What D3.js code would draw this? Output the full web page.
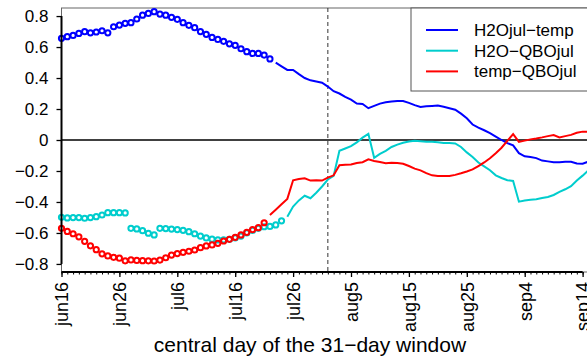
<!DOCTYPE html>
<html>
<head>
<meta charset="utf-8">
<script src="https://cdn.jsdelivr.net/npm/d3@7"></script>
<style>
  body { margin: 0; background: #fff; }
  svg { font-family: "Liberation Sans", Arial, sans-serif; }
</style>
</head>
<body>
<svg></svg>
<script>
// day 0 = jun16, one value per day
const startDay = Date.UTC(2000, 5, 16)
const tickLabels = ["jun16", "jun26", "jul6", "jul16", "jul26", "aug5", "aug15", "aug25", "sep4", "sep14"]
const yTicks = [-0.8, -0.6, -0.4, -0.2, 0, 0.2, 0.4, 0.6, 0.8]
const seriesNames = ["H2Ojul\u2212temp", "H2O\u2212QBOjul", "temp\u2212QBOjul"]
const markDay = 46 // aug1, dashed line

const h2oTemp = [
  0.656, 0.667, 0.675, 0.688, 0.699, 0.692, 0.697, 0.705, 0.692, 0.731, 0.742, 0.753, 0.757, 0.781, 0.806, 0.817,
  0.828, 0.813, 0.806, 0.792, 0.779, 0.757, 0.740, 0.725, 0.700, 0.682, 0.662, 0.649, 0.637, 0.621, 0.611, 0.589,
  0.570, 0.559, 0.559, 0.548, 0.523,
  0.499, 0.475, 0.452, 0.452, 0.425, 0.400, 0.385, 0.378, 0.370, 0.345, 0.315, 0.300, 0.278, 0.260, 0.235, 0.232,
  0.205, 0.220, 0.235, 0.243, 0.248, 0.252, 0.252, 0.240, 0.225, 0.213, 0.218, 0.220, 0.222, 0.215, 0.205, 0.195,
  0.170, 0.140, 0.100, 0.080, 0.063, 0.045, 0.022, 0.000, -0.020, -0.035, -0.085, -0.105, -0.110, -0.117, -0.133,
  -0.138, -0.144, -0.143, -0.140, -0.140, -0.152, -0.153, -0.140
]
const h2oQbo = [
  -0.499, -0.503, -0.501, -0.501, -0.505, -0.501, -0.495, -0.484, -0.469, -0.469, -0.469, -0.471,
  -0.570, -0.574, -0.585, -0.602, -0.613,
  -0.570, -0.572, -0.575, -0.578, -0.583, -0.592, -0.605, -0.620, -0.632, -0.640, -0.645, -0.645, -0.641, -0.632,
  -0.620, -0.600, -0.583, -0.570, -0.560, -0.558, -0.548, -0.522,
  -0.495, -0.430, -0.390, -0.360, -0.376, -0.340, -0.300, -0.255, -0.232, -0.070, -0.055, -0.040, -0.015, 0.015,
  0.040, -0.115, -0.090, -0.070, -0.045, -0.030, -0.018, -0.010, -0.005, -0.008, -0.011, -0.011, -0.015, -0.020,
  -0.020, -0.022, -0.045, -0.080, -0.110, -0.145, -0.170, -0.195, -0.228, -0.245, -0.260, -0.264, -0.398, -0.390,
  -0.386, -0.383, -0.375, -0.368, -0.355, -0.335, -0.318, -0.298, -0.262, -0.230, -0.196
]
const tempQbo = [
  -0.570, -0.590, -0.605, -0.625, -0.654, -0.683, -0.708, -0.735, -0.748, -0.757, -0.763, -0.780, -0.774, -0.777,
  -0.779, -0.780, -0.781, -0.775, -0.760, -0.743, -0.733, -0.725, -0.718, -0.710, -0.695, -0.684, -0.677, -0.667,
  -0.652, -0.641, -0.628, -0.613, -0.596, -0.578, -0.566, -0.534,
  -0.484, -0.450, -0.415, -0.380, -0.260, -0.252, -0.247, -0.262, -0.260, -0.262, -0.243, -0.228, -0.163, -0.160,
  -0.158, -0.148, -0.143, -0.125, -0.135, -0.142, -0.150, -0.147, -0.148, -0.153, -0.168, -0.185, -0.196, -0.214,
  -0.228, -0.232, -0.232, -0.232, -0.225, -0.215, -0.203, -0.190, -0.168, -0.145, -0.118, -0.085, -0.050, -0.005,
  0.038, -0.012, -0.004, 0.004, 0.010, 0.017, 0.025, 0.032, 0.017, 0.025, 0.033, 0.047, 0.054, 0.054
]
// last day drawn with circles (significant), per series
const lastSigDay = [36, 38, 35]

const colors = ["#0000ff", "#00cdcd", "#ff0000"]
const width = 587, height = 358
const plotLeft = 61.5, plotTop = 8, plotBottom = 272

const dates = h2oTemp.map((_, i) => new Date(startDay + i * 864e5))
const series = [h2oTemp, h2oQbo, tempQbo]

const svg = d3.select("svg").attr("width", width).attr("height", height)

const x = d3.scaleUtc()
  .domain([dates[0], dates[dates.length - 1]])
  .range([plotLeft, 588.4])
const y = d3.scaleLinear()
  .domain([-0.852, 0.852])
  .range([plotBottom, plotTop])

// box
svg.append("rect")
  .attr("x", plotLeft).attr("y", plotTop)
  .attr("width", 700).attr("height", plotBottom - plotTop)
  .attr("fill", "none").attr("stroke", "#666").attr("stroke-width", 1)

// zero line
svg.append("line")
  .attr("x1", plotLeft).attr("x2", width)
  .attr("y1", y(0)).attr("y2", y(0))
  .attr("stroke", "#000").attr("stroke-width", 1.6)

// dashed line at window
svg.append("line")
  .attr("x1", x(dates[markDay])).attr("x2", x(dates[markDay]))
  .attr("y1", plotTop).attr("y2", plotBottom)
  .attr("stroke", "#333").attr("stroke-width", 1)
  .attr("stroke-dasharray", "4,3")

series.forEach((vals, s) => {
  const line = d3.line()
    .defined((d, i) => i > lastSigDay[s])
    .x((d, i) => x(dates[i]))
    .y(d => y(d))
  svg.append("path")
    .datum(vals)
    .attr("d", line)
    .attr("fill", "none")
    .attr("stroke", colors[s])
    .attr("stroke-width", 2)

  svg.append("g").selectAll("circle")
    .data(vals.slice(0, lastSigDay[s] + 1))
    .enter()
    .append("circle")
    .attr("cx", (d, i) => x(dates[i]))
    .attr("cy", d => y(d))
    .attr("r", 2.6)
    .attr("fill", "none")
    .attr("stroke", colors[s])
    .attr("stroke-width", 2)
})

// x axis
const majors = dates.filter((d, i) => i % 10 === 0)
const xAxis = svg.append("g")
  .attr("transform", `translate(0,${plotBottom})`)
  .call(d3.axisBottom(x).tickValues(majors).tickFormat((d, i) => tickLabels[i]).tickSize(5).tickSizeOuter(0))
svg.append("g")
  .attr("transform", `translate(0,${plotBottom})`)
  .call(d3.axisBottom(x).tickValues(dates).tickFormat("").tickSize(2.5).tickSizeOuter(0))
  .call(g => g.select(".domain").remove())
  .selectAll("line").attr("stroke", "#000")
xAxis.select(".domain").remove()
xAxis.selectAll("line").attr("stroke", "#000").attr("stroke-width", 1.3)
xAxis.selectAll("text")
  .attr("font-size", 18)
  .attr("font-family", "Liberation Sans, Arial, sans-serif")
  .attr("fill", "#000")
  .attr("text-anchor", "end")
  .attr("transform", "rotate(-90)")
  .attr("x", -10).attr("y", 0).attr("dy", "0.35em")
svg.append("line")
  .attr("x1", x(majors[0])).attr("x2", x(majors[majors.length - 1]))
  .attr("y1", plotBottom).attr("y2", plotBottom)
  .attr("stroke", "#000").attr("stroke-width", 2)

// y axis
const yAxis = svg.append("g")
  .attr("transform", `translate(${plotLeft},0)`)
  .call(d3.axisLeft(y).tickValues(yTicks).tickFormat(d => d === 0 ? "0" : d3.format(".1f")(d)).tickSize(5))
yAxis.select(".domain").remove()
yAxis.selectAll("line").attr("stroke", "#000").attr("stroke-width", 1.3)
yAxis.selectAll("text")
  .attr("font-size", 17)
  .attr("font-family", "Liberation Sans, Arial, sans-serif")
  .attr("fill", "#000")
  .attr("x", -13)
svg.append("line")
  .attr("x1", plotLeft).attr("x2", plotLeft)
  .attr("y1", y(yTicks[0])).attr("y2", y(yTicks[yTicks.length - 1]))
  .attr("stroke", "#000").attr("stroke-width", 2)

// axis title
svg.append("text")
  .attr("x", 310).attr("y", 352)
  .attr("text-anchor", "middle")
  .attr("font-size", 21)
  .text("central day of the 31\u2212day window")

// legend
const legend = svg.append("g")
legend.append("rect")
  .attr("x", 411).attr("y", plotTop)
  .attr("width", 200).attr("height", 83)
  .attr("fill", "#fff").attr("stroke", "#555").attr("stroke-width", 1)
seriesNames.forEach((name, i) => {
  const ly = 30 + i * 20.7
  legend.append("line")
    .attr("x1", 426).attr("x2", 458)
    .attr("y1", ly).attr("y2", ly)
    .attr("stroke", colors[i]).attr("stroke-width", 2)
  legend.append("text")
    .attr("x", 474).attr("y", ly).attr("dy", "0.35em")
    .attr("font-size", 17)
    .text(name)
})
</script>
</body>
</html>
